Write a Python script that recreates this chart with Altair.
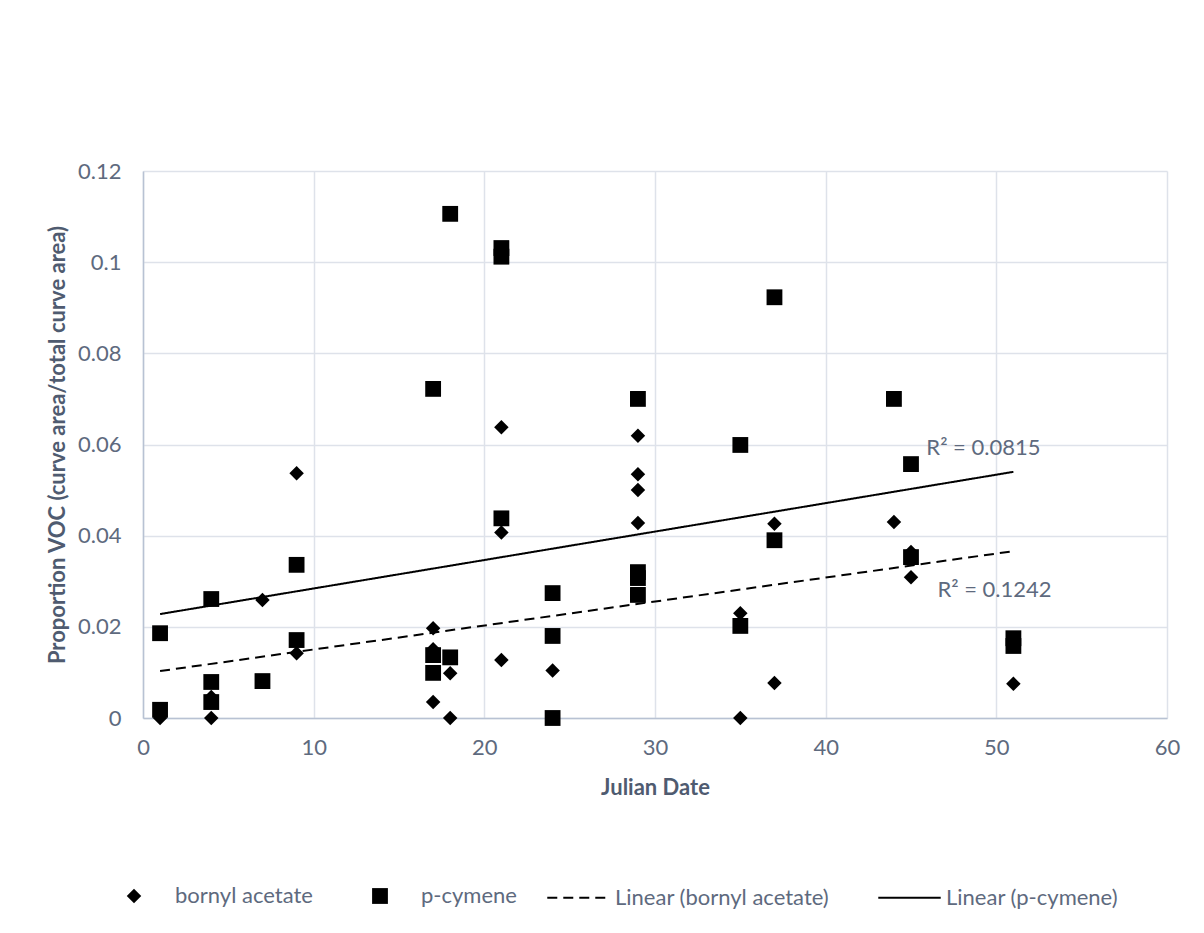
import altair as alt
import pandas as pd

# ---- data ----
BORNYL_X = [1, 1, 4, 4, 7, 9, 9, 17, 17, 17, 18, 18, 21, 21, 21, 24,
            29, 29, 29, 29, 35, 35, 37, 37, 44, 45, 45, 51]
BORNYL_Y = [0.0005, 0.0, 0.0046, 0.0, 0.0259, 0.0537, 0.0142, 0.0197, 0.0151, 0.0035,
            0.0098, 0.0, 0.0638, 0.0407, 0.0127, 0.0104, 0.0619, 0.0535, 0.050, 0.0428,
            0.023, 0.0, 0.0426, 0.0077, 0.043, 0.0364, 0.0309, 0.0075]

CYMENE_X = [1, 1, 4, 4, 4, 7, 9, 9, 17, 17, 17, 18, 18, 21, 21, 21, 24, 24, 24,
            29, 29, 29, 29, 35, 35, 37, 37, 44, 45, 45, 51, 51]
CYMENE_Y = [0.0186, 0.0018, 0.0261, 0.0079, 0.0035, 0.0081, 0.0336, 0.0171, 0.0722,
            0.0138, 0.0099, 0.1106, 0.0133, 0.1031, 0.1012, 0.0438, 0.0274, 0.018, 0.0,
            0.070, 0.032, 0.0307, 0.027, 0.0599, 0.0202, 0.0923, 0.039, 0.070, 0.0557,
            0.0353, 0.0175, 0.0158]

# linear trendlines (end points)
TREND_X = [1, 51]
TREND_BORNYL_Y = [0.0103, 0.0366]
TREND_CYMENE_Y = [0.0228, 0.054]

POINT_SERIES = ["bornyl acetate", "p-cymene"]
TREND_SERIES = ["Linear (bornyl acetate)", "Linear (p-cymene)"]

R2_TEXT = ["R\u00b2 = 0.0815", "R\u00b2 = 0.1242"]
R2_X = [45.9, 46.55]
R2_Y = [0.0592, 0.0281]

X_TICKS = [0, 10, 20, 30, 40, 50, 60]
Y_TICKS = [0, 0.02, 0.04, 0.06, 0.08, 0.1, 0.12]

X_TITLE = "Julian Date"
Y_TITLE = "Proportion VOC (curve area/total curve area)"

# ---- tables ----
points = pd.DataFrame({
    "date": BORNYL_X + CYMENE_X,
    "value": BORNYL_Y + CYMENE_Y,
    "series": [POINT_SERIES[0]] * len(BORNYL_X) + [POINT_SERIES[1]] * len(CYMENE_X),
})
trend = pd.DataFrame({
    "date": TREND_X + TREND_X,
    "value": TREND_BORNYL_Y + TREND_CYMENE_Y,
    "series": [TREND_SERIES[0]] * len(TREND_X) + [TREND_SERIES[1]] * len(TREND_X),
})
r2 = pd.DataFrame({"date": R2_X, "value": R2_Y, "text": R2_TEXT})

TEXT_COLOR = "#5E6A7E"
TITLE_COLOR = "#4F5B70"
FONT = "Lato"
FS = 22

x_enc = alt.X("date:Q",
              scale=alt.Scale(domain=[0, 60], nice=False),
              axis=alt.Axis(values=X_TICKS, title=X_TITLE, labelPadding=19,
                            titlePadding=19, labelFlush=False))
y_enc = alt.Y("value:Q",
              scale=alt.Scale(domain=[0, 0.12], nice=False),
              axis=alt.Axis(values=Y_TICKS, format=".2~f", title=Y_TITLE,
                            labelPadding=22, titlePadding=8))

point_legend = alt.Legend(
    title=None, orient="none", direction="horizontal",
    legendX=-20, legendY=714, padding=0,
    labelFont=FONT, labelFontSize=FS, labelColor=TEXT_COLOR, labelLimit=0,
    labelOffset=30, columnPadding=56,
    symbolFillColor="black", symbolStrokeWidth=0, symbolOpacity=1,
)
trend_legend = alt.Legend(
    title=None, orient="none", direction="horizontal",
    legendX=403, legendY=694, padding=0,
    labelFont=FONT, labelFontSize=FS, labelColor=TEXT_COLOR, labelLimit=0,
    labelOffset=4, columnPadding=44,
    symbolType="stroke", symbolSize=3900, symbolStrokeColor="black",
    symbolStrokeWidth=2, symbolOpacity=1,
)

pts = alt.Chart(points).mark_point(filled=True, opacity=1, color="black").encode(
    x=x_enc, y=y_enc,
    shape=alt.Shape("series:N",
                    scale=alt.Scale(domain=POINT_SERIES, range=["diamond", "square"]),
                    legend=point_legend),
    size=alt.Size("series:N",
                  scale=alt.Scale(domain=POINT_SERIES, range=[210, 250]),
                  legend=point_legend),
)

lines = alt.Chart(trend).mark_line(color="black", strokeWidth=2).encode(
    x=x_enc, y=y_enc,
    strokeDash=alt.StrokeDash("series:N",
                              scale=alt.Scale(domain=TREND_SERIES,
                                              range=[[10, 6], [1, 0]]),
                              legend=trend_legend),
)

labels = alt.Chart(r2).mark_text(
    align="left", baseline="middle", font=FONT, fontSize=FS, color=TEXT_COLOR
).encode(x=x_enc, y=y_enc, text="text:N")

chart = alt.layer(lines, pts, labels).properties(
    width=1024, height=547,
    autosize=alt.AutoSizeParams(type="none"),
    padding={"left": 135, "top": 163, "right": 29, "bottom": 207},
).configure(
    font=FONT,
).configure_view(
    stroke=None,
).configure_axis(
    grid=True, gridColor="#DEE2EA", gridWidth=1.5,
    domainColor="#B8C2D3", domainWidth=1.5,
    ticks=False,
    labelFont=FONT, labelFontSize=FS, labelColor=TEXT_COLOR,
    titleFont=FONT, titleFontSize=22, titleFontWeight="bold", titleColor=TITLE_COLOR,
)

chart.save("out.html", embed_options={"renderer": "svg", "actions": False})
